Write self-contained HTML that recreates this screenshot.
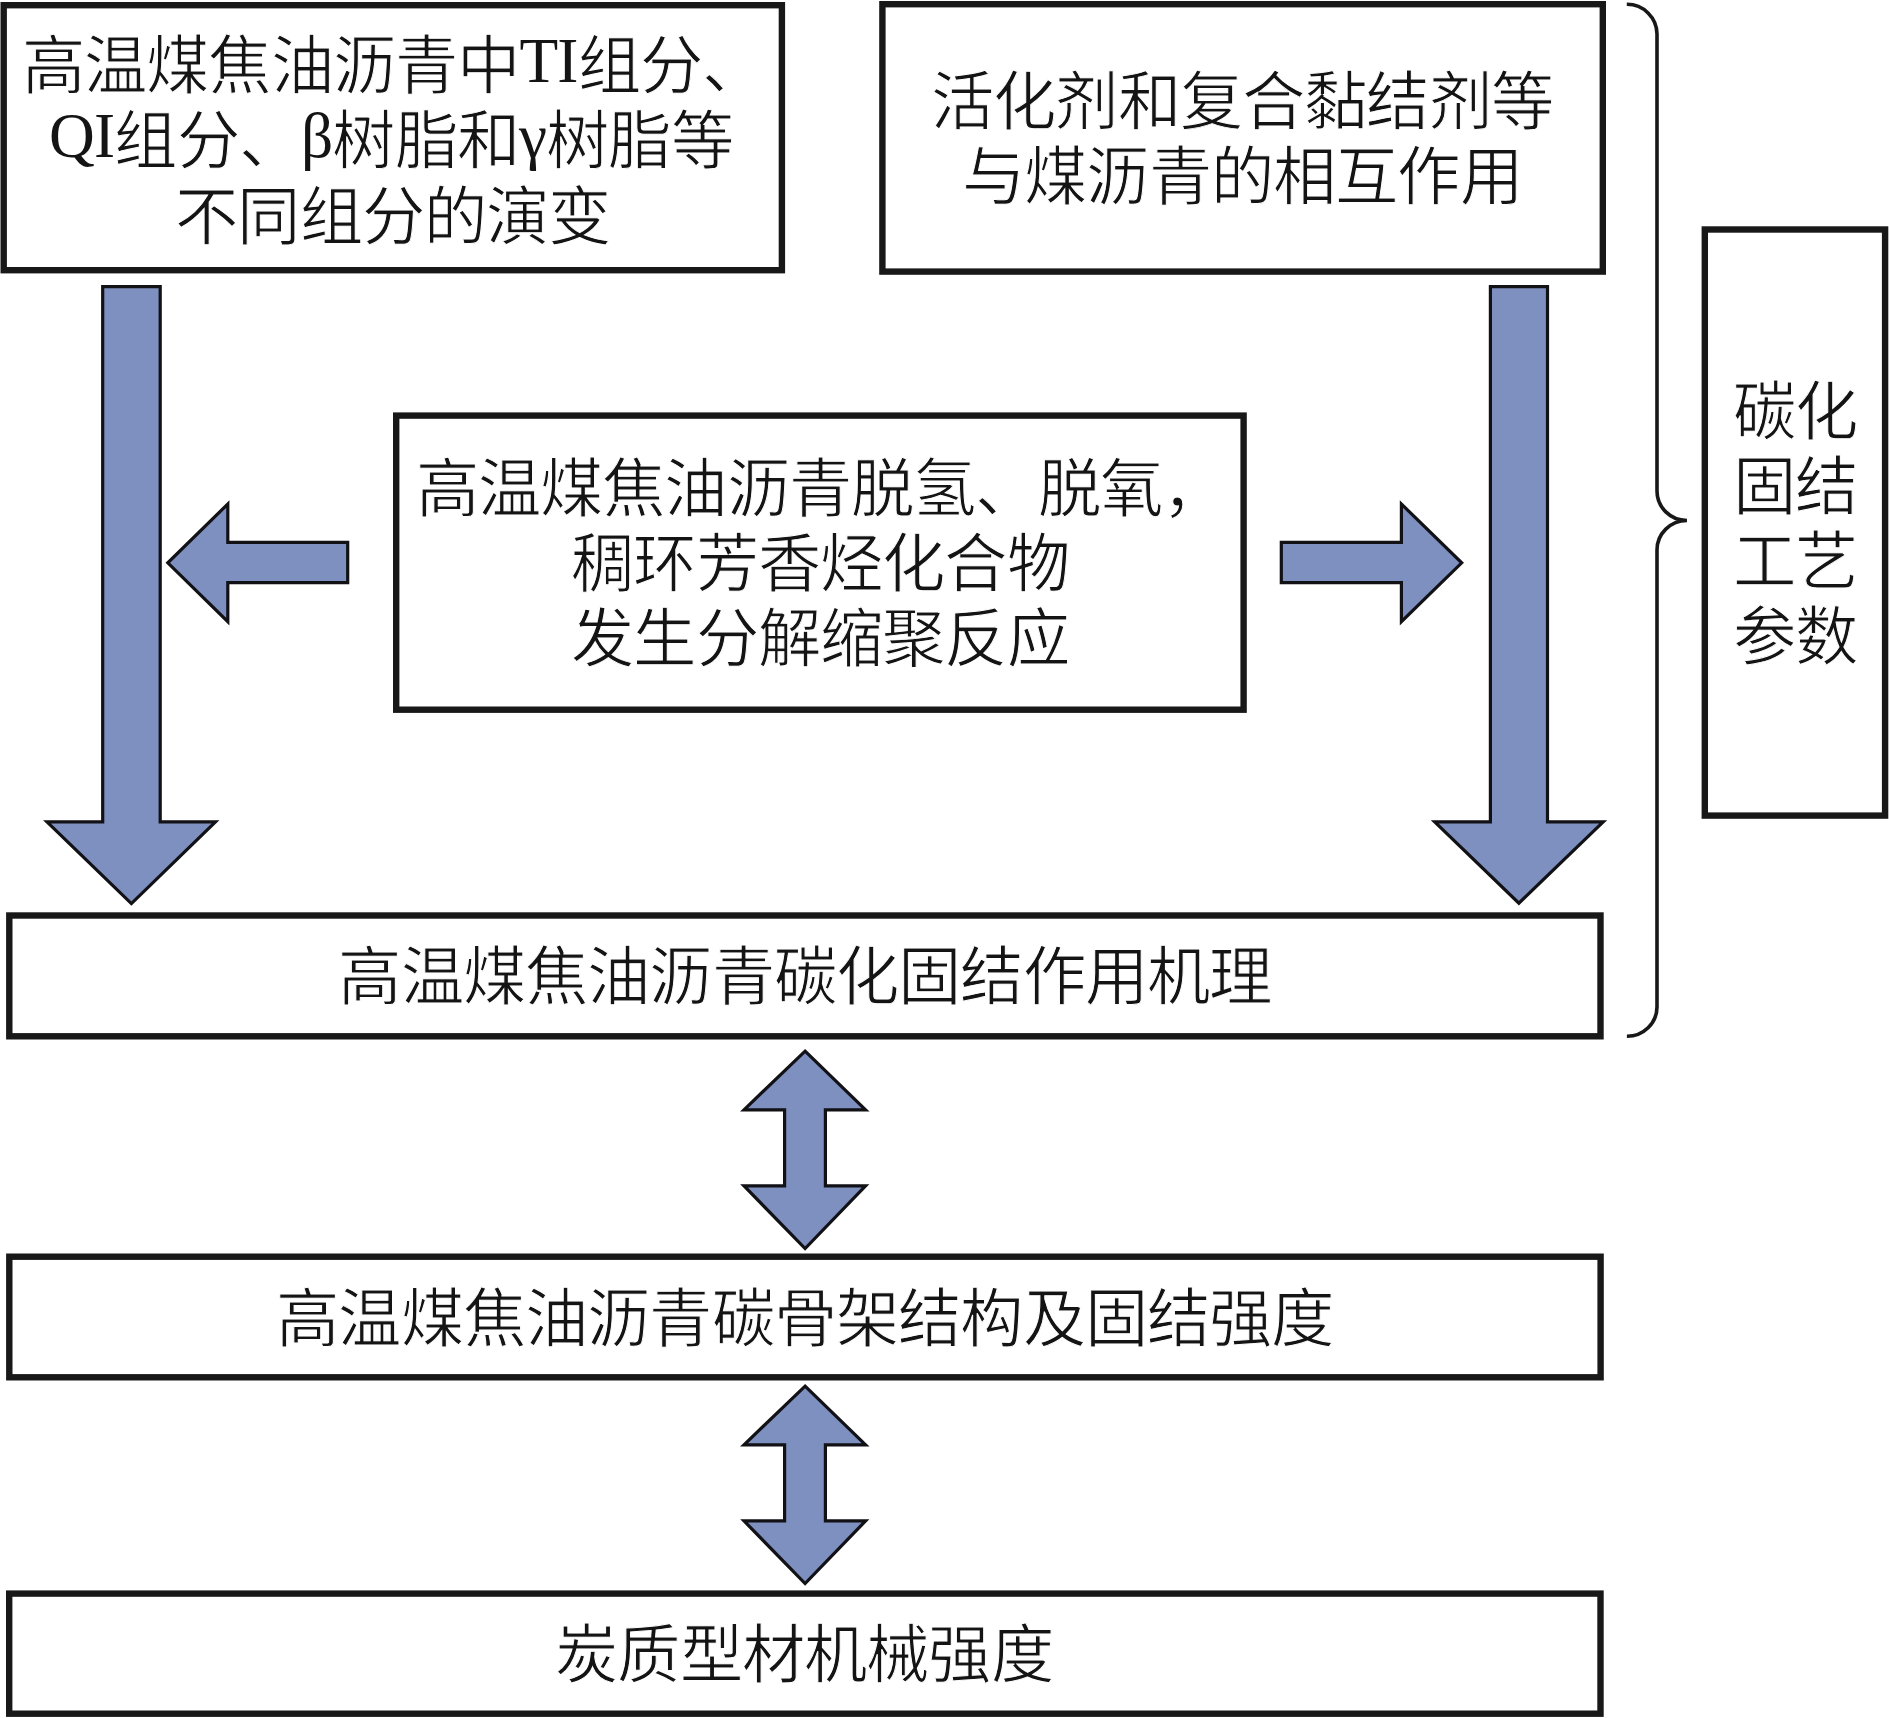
<!DOCTYPE html>
<html lang="zh-CN">
<head>
<meta charset="utf-8">
<style>
html,body{margin:0;padding:0;background:#fff;}
body{width:1889px;height:1718px;position:relative;overflow:hidden;}
svg{position:absolute;left:0;top:0;}
.t{position:absolute;width:1600px;text-align:center;white-space:nowrap;font-family:"Liberation Serif",serif;font-size:63.4px;letter-spacing:-0.8px;line-height:75px;color:#141414;-webkit-text-stroke:1px #fff;}
.l{position:relative;top:-6px;-webkit-text-stroke:0;}
</style>
</head>
<body>
<svg width="1889" height="1718" viewBox="0 0 1889 1718">
<g fill="none" stroke="#181818" stroke-width="6.4">
<rect x="3.7" y="5.2" width="778.2" height="265.0"/>
<rect x="882.4" y="4.2" width="720.4" height="267.4"/>
<rect x="1704.8" y="229.5" width="180.3" height="586.1"/>
<rect x="396.2" y="415.6" width="847.4" height="294.1"/>
<rect x="9.3" y="915.5" width="1591.2" height="120.8"/>
<rect x="9.3" y="1256.7" width="1591.3" height="120.6"/>
<rect x="9.2" y="1593.6" width="1591.3" height="120.1"/>
</g>
<path fill="none" stroke="#181818" stroke-width="3.6" d="M1626.8 4.3 A30 30 0 0 1 1657 34 L1657 491 A30 29.5 0 0 0 1687 520.5 A30 29.5 0 0 0 1657 550 L1657 1007 A30 29.5 0 0 1 1626.9 1036.3"/>
<g fill="#7e90c0" stroke="#111116" stroke-width="3.2" stroke-linejoin="miter">
<path d="M102.7 286.6 L160.2 286.6 L160.2 821.8 L215.5 821.8 L131.4 903.6 L47 821.8 L102.7 821.8 Z"/>
<path d="M1490.4 286.6 L1547.5 286.6 L1547.5 821.8 L1603.2 821.8 L1518.9 903.2 L1434.7 821.8 L1490.4 821.8 Z"/>
<path d="M347.7 542.4 L227.8 542.4 L227.8 504 L167.8 562.8 L227.8 621.6 L227.8 582.6 L347.7 582.6 Z"/>
<path d="M1281.3 542.4 L1401.4 542.4 L1401.4 504 L1461.7 562.8 L1401.4 621.6 L1401.4 582.6 L1281.3 582.6 Z"/>
<path d="M805.1 1051.1 L865.6 1109.8 L825.4 1109.8 L825.4 1185.9 L865.6 1185.9 L805.1 1248.5 L744 1185.9 L784.6 1185.9 L784.6 1109.8 L744 1109.8 Z"/>
<path d="M805.1 1386.1 L865.6 1444.8 L825.4 1444.8 L825.4 1520.9 L865.6 1520.9 L805.1 1583.5 L744 1520.9 L784.6 1520.9 L784.6 1444.8 L744 1444.8 Z"/>
</g>
</svg>
<div class="t" style="left:-407px;top:30px">高温煤焦油沥青中<span class="l">TI</span>组分、</div>
<div class="t" style="left:-409px;top:105px"><span class="l">QI</span>组分、<span class="l">β</span>树脂和<span class="l">γ</span>树脂等</div>
<div class="t" style="left:-407px;top:181px">不同组分的演变</div>
<div class="t" style="left:442px;top:66px">活化剂和复合黏结剂等</div>
<div class="t" style="left:442px;top:141px">与煤沥青的相互作用</div>
<div class="t" style="left:20px;top:453px">高温煤焦油沥青脱氢、脱氧，</div>
<div class="t" style="left:20px;top:528px">稠环芳香烃化合物</div>
<div class="t" style="left:20px;top:603px">发生分解缩聚反应</div>
<div class="t" style="left:5px;top:941px">高温煤焦油沥青碳化固结作用机理</div>
<div class="t" style="left:5px;top:1283px">高温煤焦油沥青碳骨架结构及固结强度</div>
<div class="t" style="left:4px;top:1619px">炭质型材机械强度</div>
<div class="t" style="left:995px;top:376px">碳化</div>
<div class="t" style="left:995px;top:451px">固结</div>
<div class="t" style="left:995px;top:526px">工艺</div>
<div class="t" style="left:995px;top:601px">参数</div>
</body>
</html>
